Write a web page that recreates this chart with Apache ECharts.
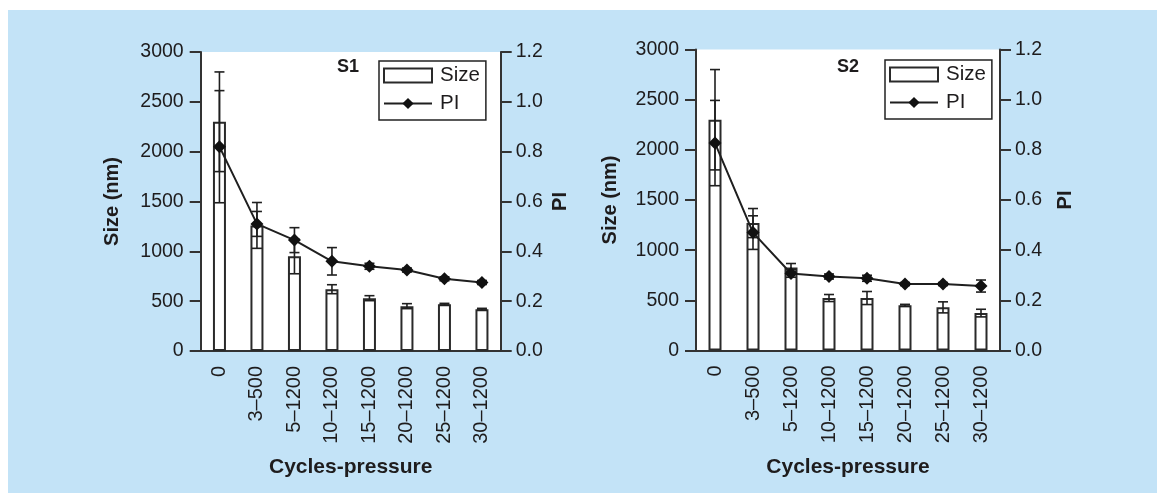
<!DOCTYPE html>
<html><head><meta charset="utf-8">
<script src="https://cdn.jsdelivr.net/npm/echarts@6/dist/echarts.min.js"></script>
<style>
html,body{margin:0;padding:0;background:#fff;}
#bg{position:absolute;left:8px;top:10px;width:1149px;height:483px;background:#C3E3F7;}
#chart{position:absolute;left:0;top:0;width:1157px;height:493px;}
</style></head><body><div id="bg"></div><div id="chart"></div>
<script>
const categories = ['0', '3\u2013500', '5\u20131200', '10\u20131200', '15\u20131200', '20\u20131200', '25\u20131200', '30\u20131200'];
const sizeTicks = [0, 500, 1000, 1500, 2000, 2500, 3000];
const piTicks = [0.0, 0.2, 0.4, 0.6, 0.8, 1.0, 1.2];

const s1Size    = [2300, 1260, 950, 620, 530, 450, 470, 420];
const s1SizeErr = [500, 230, 175, 45, 25, 25, 8, 8];
const s1PI      = [0.82, 0.51, 0.445, 0.36, 0.34, 0.325, 0.29, 0.275];
const s1PIErr   = [0.225, 0.05, 0.05, 0.055, 0.012, 0.008, 0.008, 0.008];

const s2Size    = [2300, 1270, 827, 523, 523, 450, 430, 373];
const s2SizeErr = [500, 145, 40, 35, 65, 10, 55, 38];
const s2PI      = [0.827, 0.47, 0.307, 0.295, 0.288, 0.265, 0.265, 0.257];
const s2PIErr   = [0.17, 0.067, 0.015, 0.01, 0.012, 0.006, 0.006, 0.024];

const FONT = 'Liberation Sans, Arial, Helvetica, sans-serif';
const INK = '#1e1c1d';
const AXIS = '#333333';

function errRender(params, api) {
  const x = api.value(0), v = api.value(1), e = api.value(2);
  const t = api.coord([x, v + e]), b = api.coord([x, v - e]);
  const hw = 5;
  const st = { stroke: '#1f1f1f', lineWidth: 1.6 };
  return { type: 'group', children: [
    { type: 'line', shape: { x1: t[0], y1: t[1], x2: b[0], y2: b[1] }, style: st },
    { type: 'line', shape: { x1: t[0] - hw, y1: t[1], x2: t[0] + hw, y2: t[1] }, style: st },
    { type: 'line', shape: { x1: b[0] - hw, y1: b[1], x2: b[0] + hw, y2: b[1] }, style: st }
  ]};
}

const grids = [
  { left: 200.7, top: 52, width: 300, height: 299 },
  { left: 696, top: 49.5, width: 304, height: 301 }
];
const namePos = [{ lg: 78, rg: 50 }, { lg: 76, rg: 55 }];

function xAxisFor(i) {
  return {
    type: 'category', gridIndex: i, data: categories, boundaryGap: true,
    axisLine: { lineStyle: { color: AXIS, width: 2 } },
    axisTick: { length: 11, lineStyle: { color: AXIS, width: 2 } },
    axisLabel: { rotate: 90, margin: 15, fontSize: 20, color: INK, fontFamily: FONT, interval: 0 },
    name: 'Cycles-pressure', nameLocation: 'middle', nameGap: 106,
    nameTextStyle: { fontSize: 21, fontWeight: 'bold', color: INK, fontFamily: FONT },
    splitLine: { show: false }
  };
}
function yAxesFor(i) {
  return [{
    type: 'value', gridIndex: i, position: 'left',
    min: sizeTicks[0], max: sizeTicks[sizeTicks.length - 1], interval: sizeTicks[1] - sizeTicks[0],
    axisLine: { show: true, lineStyle: { color: AXIS, width: 2 } },
    axisTick: { show: true, length: 11, lineStyle: { color: AXIS, width: 2 } },
    axisLabel: { margin: 17, fontSize: 19.5, color: INK, fontFamily: FONT, formatter: v => String(v) },
    splitLine: { show: false },
    name: 'Size (nm)', nameLocation: 'middle', nameGap: namePos[i].lg,
    nameTextStyle: { fontSize: 20, fontWeight: 'bold', color: INK, fontFamily: FONT }
  }, {
    type: 'value', gridIndex: i, position: 'right',
    min: piTicks[0], max: piTicks[piTicks.length - 1], interval: 0.2,
    axisLine: { show: true, lineStyle: { color: AXIS, width: 2 } },
    axisTick: { show: true, length: 11, lineStyle: { color: AXIS, width: 2 } },
    axisLabel: { margin: 15, fontSize: 19.5, color: INK, fontFamily: FONT, formatter: v => v.toFixed(1) },
    splitLine: { show: false },
    name: 'PI', nameLocation: 'middle', nameGap: namePos[i].rg,
    nameTextStyle: { fontSize: 20, fontWeight: 'bold', color: INK, fontFamily: FONT }
  }];
}
function seriesFor(i, size, sizeErr, pi, piErr) {
  const xi = i, ys = i * 2, yp = i * 2 + 1;
  return [
    { type: 'bar', name: 'Size', xAxisIndex: xi, yAxisIndex: ys, data: size, barWidth: 13,
      itemStyle: { color: '#fff', borderColor: '#2a2a2a', borderWidth: 2 }, z: 2, silent: true },
    { type: 'custom', xAxisIndex: xi, yAxisIndex: ys, renderItem: errRender,
      data: size.map((v, k) => [k, v, sizeErr[k]]), encode: { x: 0, y: 1 }, z: 3, silent: true },
    { type: 'custom', xAxisIndex: xi, yAxisIndex: yp, renderItem: errRender,
      data: pi.map((v, k) => [k, v, piErr[k]]), encode: { x: 0, y: 1 }, z: 3, silent: true },
    { type: 'line', name: 'PI', xAxisIndex: xi, yAxisIndex: yp, data: pi,
      symbol: 'diamond', symbolSize: 13, lineStyle: { color: '#1f1f1f', width: 2 },
      itemStyle: { color: '#111' }, z: 4, silent: true, animation: false }
  ];
}
function legendFor(left, top) {
  return {
    data: [{ name: 'Size', icon: 'rect' }, { name: 'PI' }],
    orient: 'vertical', left: left, top: top, itemWidth: 48, itemHeight: 14, itemGap: 7,
    padding: [4, 6, 6, 4], borderColor: '#222', borderWidth: 1.5, borderRadius: 0,
    backgroundColor: '#fff', selectedMode: false,
    textStyle: { fontSize: 20.5, lineHeight: 20, color: INK, fontFamily: FONT, padding: [0, 0, 0, 3] }
  };
}

const option = {
  animation: false,
  grid: grids.map(g => Object.assign({ show: true, backgroundColor: '#fff', borderWidth: 0 }, g)),
  title: [
    { text: 'S1', left: 337, top: 58.5, padding: 0, textStyle: { fontSize: 18, fontWeight: 'bold', color: INK, fontFamily: FONT } },
    { text: 'S2', left: 837, top: 58, padding: 0, textStyle: { fontSize: 18, fontWeight: 'bold', color: INK, fontFamily: FONT } }
  ],
  legend: [legendFor(379, 61), legendFor(885, 60)],
  xAxis: [xAxisFor(0), xAxisFor(1)],
  yAxis: yAxesFor(0).concat(yAxesFor(1)),
  series: seriesFor(0, s1Size, s1SizeErr, s1PI, s1PIErr).concat(seriesFor(1, s2Size, s2SizeErr, s2PI, s2PIErr))
};
const chart = echarts.init(document.getElementById('chart'));
chart.setOption(option);
</script></body></html>
